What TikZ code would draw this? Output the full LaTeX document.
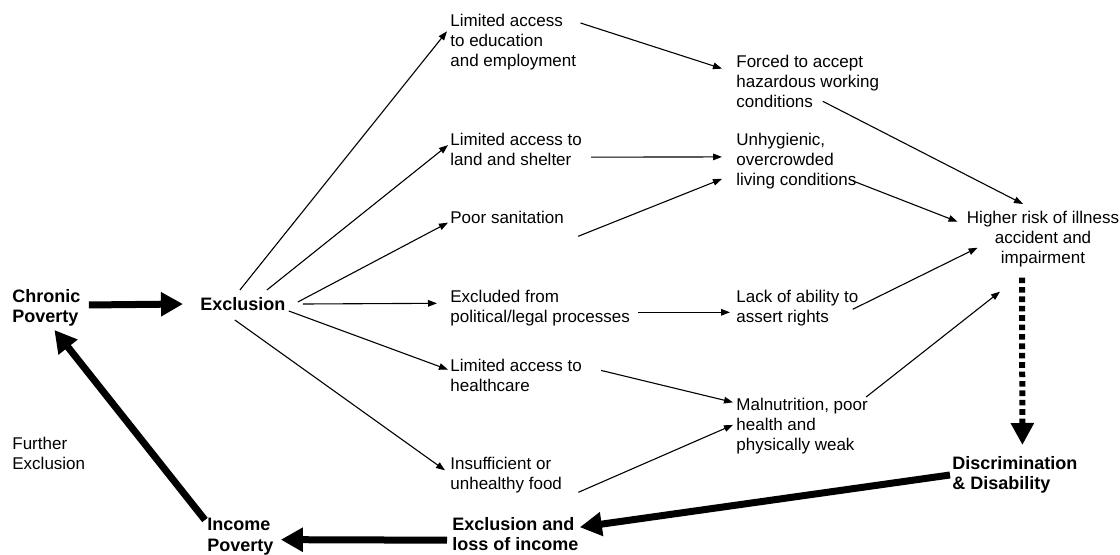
\documentclass[tikz,border=0pt]{standalone}
\usepackage{fontspec}
\setmainfont{Liberation Sans}
\usepackage{tikz}
\usetikzlibrary{arrows.meta}

\begin{document}
\begin{tikzpicture}[x=0.5pt,y=-0.5pt,
			txt node/.style={inner sep=0pt,align=left,anchor=north west,
				font=\fontsize{8.5}{10}\selectfont},
			key node/.style={inner sep=0pt,align=left,anchor=north west,
				font=\fontsize{9}{10.2}\selectfont\bfseries},
			thin arrow/.style={line width=0.55pt,-{Triangle[length=4.5pt,width=3.3pt]}},
			thick arrow/.style={line width=3.5pt,-{Triangle[length=11pt,width=11.5pt]}},
			dotted arrow/.style={line width=3pt,dash pattern=on 2.8pt off 1.9pt,
				-{Triangle[length=11pt,width=11pt]}}]
			
			\useasboundingbox (0,0) rectangle (1120,555);
			
			\node[key node] (chronic) at (12,289) {Chronic\\Poverty};
			\node[key node] (excl) at (200,297) {Exclusion};
			\node[txt node] (further) at (12,437) {Further\\Exclusion};
			\node[key node] (income) at (207,518) {Income\\Poverty};
			\node[key node] (exloss) at (452,517) {Exclusion and\\loss of income};
			\node[key node] (discr) at (952,456) {Discrimination\\\& Disability};
			
			\node[txt node] (edu) at (450,14) {Limited access\\to education\\and employment};
			\node[txt node] (land) at (450,133) {Limited access to\\land and shelter};
			\node[txt node] (sanit) at (450,211) {Poor sanitation};
			\node[txt node] (polit) at (450,290) {Excluded from\\political/legal processes};
			\node[txt node] (health) at (450,359) {Limited access to\\healthcare};
			\node[txt node] (insuff) at (450,457) {Insufficient or\\unhealthy food};
			
			\node[txt node] (forced) at (736,55) {Forced to accept\\hazardous working\\conditions};
			\node[txt node] (unhyg) at (736,133) {Unhygienic,\\overcrowded\\living conditions};
			\node[txt node] (lack) at (736,290) {Lack of ability to\\assert rights};
			\node[txt node] (malnut) at (736,398) {Malnutrition, poor\\health and\\physically weak};
			\node[txt node,align=center,anchor=north] (higher) at (1043,211) {Higher risk of illness\\accident and\\impairment};
			
			\draw[thick arrow] ([xshift=4pt,yshift=1.5pt]chronic.east) -- ([xshift=-8.5pt]excl.west);
			\draw[thick arrow] ([xshift=-1pt,yshift=-1pt]income.north west) -- ([xshift=4pt,yshift=-1.5pt]chronic.south);
			\draw[thick arrow] ([xshift=-2.5pt,yshift=-3pt]exloss.west) -- ([xshift=3.5pt,yshift=-1.5pt]income.east);
			\draw[thick arrow] ([xshift=-1pt]discr.west) -- ([xshift=0.5pt,yshift=3.5pt]exloss.east);
			\draw[dotted arrow] ([xshift=-10.5pt,yshift=-5pt]higher.south) -- ([xshift=3.75pt,yshift=5.5pt]discr.north);
			
			\draw[thin arrow] ([xshift=-1.5pt,yshift=3.5pt]excl.north) -- ([xshift=-1.5pt,yshift=5.5pt]edu.west);
			\draw[thin arrow] ([xshift=12pt,yshift=3.5pt]excl.north) -- ([xshift=-1pt,yshift=2.25pt]land.west);
			\draw[thin arrow] ([xshift=6pt,yshift=1pt]excl.east) -- ([xshift=-1pt,yshift=-2.5pt]sanit.west);
			\draw[thin arrow] ([xshift=8.5pt]excl.east) -- ([xshift=-6.5pt,yshift=2.5pt]polit.west);
			\draw[thin arrow] ([xshift=1.5pt]excl.south east) -- ([xshift=-1pt,yshift=3pt]health.west);
			\draw[thin arrow] ([xshift=-4pt,yshift=-4.5pt]excl.south) -- ([xshift=-2.5pt,yshift=2.5pt]insuff.west);
			
			\draw[thin arrow] ([xshift=2pt,yshift=-4.5pt]edu.north east) -- ([xshift=-7pt,yshift=6.5pt]forced.west);
			\draw[thin arrow] ([xshift=4.5pt,yshift=-3.75pt]land.east) -- ([xshift=-7pt,yshift=2.2pt]unhyg.west);
			\draw[thin arrow] ([xshift=7pt,yshift=-6pt]sanit.south east) -- ([xshift=-7pt,yshift=-8.8pt]unhyg.west);
			\draw[thin arrow] ([xshift=4pt,yshift=-2pt]polit.east) -- ([xshift=-3pt,yshift=-2pt]lack.west);
			\draw[thin arrow] ([xshift=9.5pt,yshift=2.6pt]health.east) -- ([xshift=-1.5pt,yshift=12pt]malnut.west);
			\draw[thin arrow] ([xshift=8pt,yshift=-8.5pt]insuff.east) -- ([xshift=-1.5pt,yshift=0.7pt]malnut.west);
			
			\draw[thin arrow] ([xshift=7.5pt,yshift=3.5pt]forced.south) -- ([xshift=-10pt,yshift=3.5pt]higher.north);
			\draw[thin arrow] ([xshift=-2pt,yshift=-9.8pt]unhyg.east) -- ([xshift=-4.5pt,yshift=8.8pt]higher.west);
			\draw[thin arrow] ([xshift=-3pt,yshift=-0.5pt]lack.east) -- ([xshift=5.5pt,yshift=-4.2pt]higher.west);
			\draw[thin arrow] ([xshift=-1pt,yshift=0.5pt]malnut.north east) -- ([xshift=-21.5pt,yshift=-12pt]higher.south);
			
		\end{tikzpicture}
\end{document}
